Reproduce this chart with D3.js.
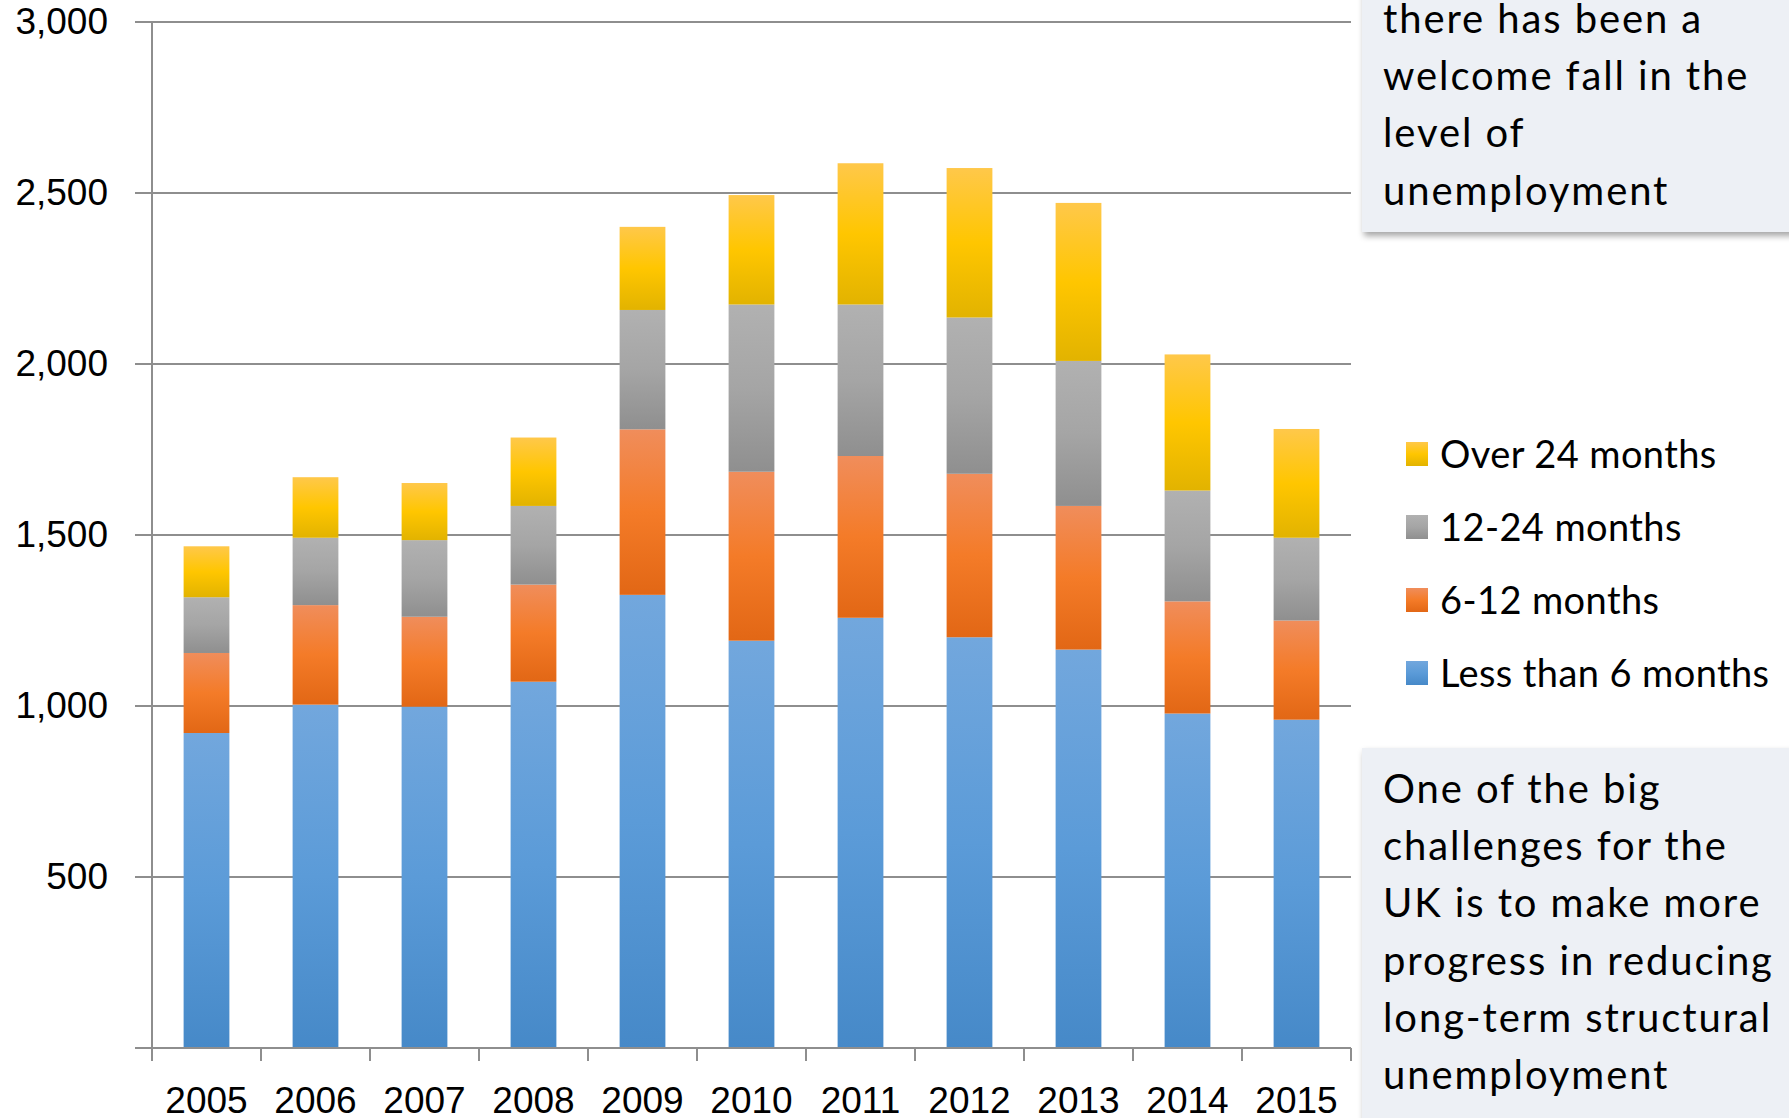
<!doctype html>
<html>
<head>
<script src="https://cdnjs.cloudflare.com/ajax/libs/d3/7.8.5/d3.min.js"></script>
<style>
    body { margin: 0; background: #fff; }
    svg { display: block; font-family: Lato, "Noto Sans", sans-serif; }
    .axis path, .axis line { stroke: none; }
    .axis text { font-size: 37px; fill: #000; }
</style>
</head>
<body>
<script>
    var years = ["2005", "2006", "2007", "2008", "2009", "2010", "2011", "2012", "2013", "2014", "2015"];
    var seriesNames = ["Less than 6 months", "6-12 months", "12-24 months", "Over 24 months"];

    // thousands
    var lessThan6 = [921, 1004, 998, 1071, 1325, 1191, 1258, 1201, 1165, 978, 960];
    var months6to12 = [234, 291, 263, 284, 484, 494, 473, 478, 420, 328, 290];
    var months12to24 = [163, 197, 224, 230, 349, 489, 443, 457, 424, 324, 242];
    var over24 = [149, 177, 167, 200, 243, 320, 413, 437, 462, 398, 318];

    var yTicks = [500, 1000, 1500, 2000, 2500, 3000];

    var topNote = ["there has been a", "welcome fall in the", "level of", "unemployment"];
    var bottomNote = ["One of the big", "challenges for the", "UK is to make more",
        "progress in reducing", "long-term structural", "unemployment"];

    var W = 1789, H = 1118;
    var plot = { left: 152, right: 1351, top: 22, bottom: 1048 };

    var rows = years.map(function(yr, i) {
        var r = { year: yr };
        r[seriesNames[0]] = lessThan6[i];
        r[seriesNames[1]] = months6to12[i];
        r[seriesNames[2]] = months12to24[i];
        r[seriesNames[3]] = over24[i];
        return r;
    });

    var stacked = d3.stack().keys(seriesNames)(rows);

    var x = d3.scaleBand().domain(years)
        .range([plot.left, plot.right])
        .paddingInner(0.58).paddingOuter(0.29);

    var y = d3.scaleLinear().domain([0, 3000]).range([plot.bottom, plot.top]);

    // gradient stops per series (top -> bottom)
    var grads = {
        "Less than 6 months": [["0%", "#72a7dd"], ["50%", "#5b9bd8"], ["100%", "#4689c8"]],
        "6-12 months": [["0%", "#f08d5b"], ["50%", "#f47b28"], ["100%", "#e26715"]],
        "12-24 months": [["0%", "#b1b1b1"], ["50%", "#a5a5a5"], ["100%", "#8f8f8f"]],
        "Over 24 months": [["0%", "#ffc84a"], ["50%", "#ffc600"], ["100%", "#e2b300"]]
    };

    var svg = d3.select("body").append("svg")
        .attr("width", W)
        .attr("height", H);

    var defs = svg.append("defs");
    seriesNames.forEach(function(s, i) {
        var g = defs.append("linearGradient")
            .attr("id", "grad" + i)
            .attr("x1", 0).attr("y1", 0).attr("x2", 0).attr("y2", 1);
        grads[s].forEach(function(st) {
            g.append("stop").attr("offset", st[0]).attr("stop-color", st[1]);
        });
    });

    var shadow = defs.append("filter").attr("id", "shadow")
        .attr("x", "-10%").attr("y", "-10%").attr("width", "130%").attr("height", "130%");
    shadow.append("feDropShadow")
        .attr("dx", 2).attr("dy", 4).attr("stdDeviation", 3)
        .attr("flood-color", "#000").attr("flood-opacity", 0.35);

    // gridlines
    svg.append("g").selectAll("line")
        .data(yTicks)
        .enter().append("line")
        .attr("x1", plot.left - 17)
        .attr("x2", plot.right)
        .attr("y1", function(d) { return y(d); })
        .attr("y2", function(d) { return y(d); })
        .attr("stroke", "#8e8e8e")
        .attr("stroke-width", 2);

    // y axis labels
    svg.append("g")
        .attr("class", "axis")
        .attr("transform", "translate(" + (plot.left - 44) + ",0)")
        .call(d3.axisLeft(y).tickValues(yTicks).tickSize(0).tickPadding(0).tickFormat(d3.format(",")));

    // bars
    svg.append("g").selectAll("g")
        .data(stacked)
        .enter().append("g")
        .attr("fill", function(d, i) { return "url(#grad" + i + ")"; })
        .selectAll("rect")
        .data(function(d) { return d; })
        .enter().append("rect")
        .attr("x", function(d) { return x(d.data.year); })
        .attr("width", x.bandwidth())
        .attr("y", function(d) { return y(d[1]); })
        .attr("height", function(d) { return y(d[0]) - y(d[1]); });

    // axis lines
    svg.append("line")
        .attr("x1", plot.left).attr("x2", plot.left)
        .attr("y1", plot.top).attr("y2", plot.bottom + 13)
        .attr("stroke", "#8e8e8e").attr("stroke-width", 2);
    svg.append("line")
        .attr("x1", plot.left - 17).attr("x2", plot.right)
        .attr("y1", plot.bottom).attr("y2", plot.bottom)
        .attr("stroke", "#8e8e8e").attr("stroke-width", 2);

    // category boundary ticks
    var step = x.step();
    var bounds = years.map(function(yr) { return x(yr) - step * x.paddingInner() / 2; });
    bounds.push(plot.right);
    svg.append("g").selectAll("line")
        .data(bounds)
        .enter().append("line")
        .attr("x1", function(d) { return d; })
        .attr("x2", function(d) { return d; })
        .attr("y1", plot.bottom)
        .attr("y2", plot.bottom + 13)
        .attr("stroke", "#8e8e8e").attr("stroke-width", 2);

    // x labels
    svg.append("g")
        .attr("class", "axis")
        .attr("transform", "translate(0," + (plot.bottom + 38) + ")")
        .call(d3.axisBottom(x).tickSize(0).tickPadding(0))
        .selectAll("text")
        .attr("dy", "0.72em");

    // legend
    var legendOrder = seriesNames.slice().reverse();
    var legend = svg.append("g").selectAll("g")
        .data(legendOrder)
        .enter().append("g")
        .attr("transform", function(d, i) { return "translate(1406," + (442 + i * 73) + ")"; });
    legend.append("rect")
        .attr("width", 22).attr("height", 24)
        .attr("fill", function(d) { return "url(#grad" + seriesNames.indexOf(d) + ")"; });
    legend.append("text")
        .attr("x", 34).attr("y", 12).attr("dy", "0.36em")
        .style("font-size", "38px")
        .style("letter-spacing", "0.4px")
        .text(function(d) { return d; });

    // note boxes
    function noteBox(lines, top, height, firstBaseline) {
        var g = svg.append("g");
        g.append("rect")
            .attr("x", 1362).attr("y", top)
            .attr("width", 500).attr("height", height)
            .attr("fill", "#edf0f5")
            .attr("filter", "url(#shadow)");
        g.selectAll("text")
            .data(lines)
            .enter().append("text")
            .attr("x", 1383)
            .attr("y", function(d, i) { return firstBaseline + i * 57.2; })
            .style("font-size", "40px")
            .style("letter-spacing", "1.9px")
            .text(function(d) { return d; });
    }
    noteBox(topNote, -40, 272, 33);
    noteBox(bottomNote, 748, 420, 803);
</script>
</body>
</html>
